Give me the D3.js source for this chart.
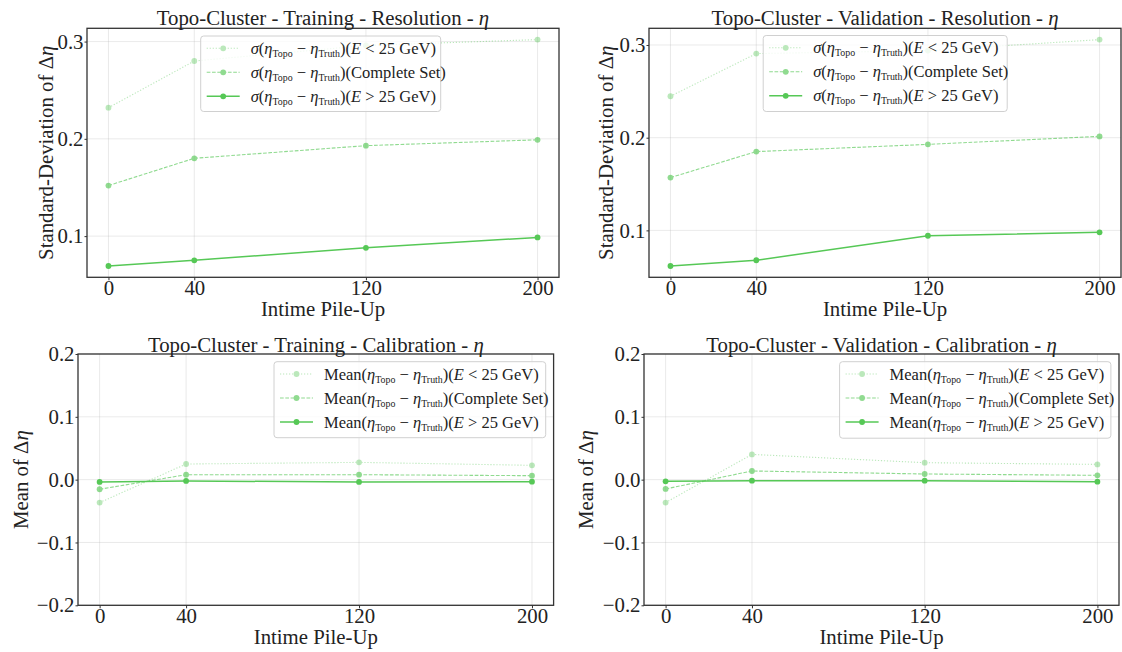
<!DOCTYPE html>
<html><head><meta charset="utf-8">
<script src="https://cdn.jsdelivr.net/npm/d3@7"></script>
<style>
html,body{margin:0;padding:0;background:#fff;}
svg{display:block;font-family:"Liberation Serif","Times New Roman",serif;}
svg text{font-family:"Liberation Serif","Times New Roman",serif !important;}
</style></head>
<body>
<svg id="chart" width="1122" height="652"></svg>
<script>
// ---------- data ----------
const pileUp = [0, 40, 120, 200];
const xTicks = [0, 40, 120, 200];

// Resolution (std-dev of Δη)
const trainResLow      = [0.232, 0.280, 0.296, 0.302];
const trainResComplete = [0.152, 0.180, 0.193, 0.199];
const trainResHigh     = [0.0693, 0.0751, 0.088, 0.0987];

const validResLow      = [0.2447, 0.2907, 0.294, 0.3058];
const validResComplete = [0.157, 0.185, 0.1928, 0.2014];
const validResHigh     = [0.0616, 0.0678, 0.0942, 0.0979];

// Calibration (mean of Δη)
const trainCalLow      = [-0.0365, 0.0249, 0.0275, 0.0228];
const trainCalComplete = [-0.0153, 0.0079, 0.0079, 0.0063];
const trainCalHigh     = [-0.0037, -0.0021, -0.0037, -0.0032];

const validCalLow      = [-0.0365, 0.0402, 0.0270, 0.0243];
const validCalComplete = [-0.0148, 0.0138, 0.0090, 0.0069];
const validCalHigh     = [-0.0026, -0.0016, -0.0016, -0.0032];

const resTicks = [0.1, 0.2, 0.3];
const calTicks = [-0.2, -0.1, 0.0, 0.1, 0.2];

const seriesNames = ["low", "complete", "high"];
const legendSuffix = ["(E < 25 GeV)", "(Complete Set)", "(E > 25 GeV)"];

// ---------- styles / layout ----------
const green = "rgb(86,200,86)";
const styles = {
  low:      {op: 0.4, dash: "1.2,1.8", w: 1.1},
  complete: {op: 0.65, dash: "3.7,1.6", w: 1.1},
  high:     {op: 1.0, dash: null, w: 1.5}
};
const FS = 20.8, LFS = 16.5;

const panels = [
  {title: "Topo-Cluster - Training - Resolution - ", ylab: "Standard-Deviation of ", kind: "res",
   box: {l: 87, r: 559, t: 28.3, b: 277.3}, series: [trainResLow, trainResComplete, trainResHigh],
   yTicks: resTicks, ylabX: 46.5, titleY: 25,
   leg: {x: 200.7, y: 36, w: 240, h: 75.5}},
  {title: "Topo-Cluster - Validation - Resolution - ", ylab: "Standard-Deviation of ", kind: "res",
   box: {l: 649, r: 1121, t: 28.3, b: 277.3}, series: [validResLow, validResComplete, validResHigh],
   yTicks: resTicks, ylabX: 607, titleY: 25,
   leg: {x: 763.2, y: 35.5, w: 244, h: 76}},
  {title: "Topo-Cluster - Training - Calibration - ", ylab: "Mean of ", kind: "cal",
   box: {l: 78, r: 553.6, t: 354, b: 605.3}, series: [trainCalLow, trainCalComplete, trainCalHigh],
   yTicks: calTicks, ylabX: 22, titleY: 351.5, fixed: [-0.2, 0.2],
   leg: {x: 274, y: 361.7, w: 271.7, h: 76}},
  {title: "Topo-Cluster - Validation - Calibration - ", ylab: "Mean of ", kind: "cal",
   box: {l: 644, r: 1119, t: 354, b: 605.3}, series: [validCalLow, validCalComplete, validCalHigh],
   yTicks: calTicks, ylabX: 587, titleY: 351.5, fixed: [-0.2, 0.2],
   leg: {x: 839.6, y: 361.7, w: 271.3, h: 76.5}}
];

const svg = d3.select("#chart");
const fmt1 = d3.format(".1f");
const tickFmt = v => fmt1(v).replace("-", "\u2212");

// Build math-ish legend label with tspans
function legendLabel(t, kind, suffix) {
  if (kind === "res") {
    t.append("tspan").attr("font-style", "italic").text("σ");
    t.append("tspan").text("(");
  } else {
    t.append("tspan").text("Mean(");
  }
  t.append("tspan").attr("font-style", "italic").text("η");
  t.append("tspan").attr("font-size", LFS * 0.6).attr("dy", 3).text("Topo");
  t.append("tspan").attr("dy", -3).text(" \u2212 ");
  t.append("tspan").attr("font-style", "italic").text("η");
  t.append("tspan").attr("font-size", LFS * 0.6).attr("dy", 3).text("Truth");
  t.append("tspan").attr("dy", -3).text(")");
  if (suffix.startsWith("(E")) {
    t.append("tspan").text("(");
    t.append("tspan").attr("font-style", "italic").text("E");
    t.append("tspan").text(suffix.slice(2));
  } else {
    t.append("tspan").text(suffix);
  }
}

panels.forEach(p => {
  const g = svg.append("g");
  const B = p.box;
  const x = d3.scaleLinear().domain([-10, 210]).range([B.l, B.r]);
  let yd;
  if (p.fixed) yd = p.fixed;
  else {
    const all = p.series.flat();
    const [mn, mx] = d3.extent(all);
    const m = (mx - mn) * 0.05;
    yd = [mn - m, mx + m];
  }
  const y = d3.scaleLinear().domain(yd).range([B.b, B.t]);

  // grid
  g.append("g").selectAll("line").data(xTicks).join("line")
    .attr("x1", d => x(d)).attr("x2", d => x(d)).attr("y1", B.t).attr("y2", B.b)
    .attr("stroke", "#b0b0b0").attr("stroke-opacity", 0.3).attr("stroke-width", 0.9);
  g.append("g").selectAll("line").data(p.yTicks).join("line")
    .attr("x1", B.l).attr("x2", B.r).attr("y1", d => y(d)).attr("y2", d => y(d))
    .attr("stroke", "#b0b0b0").attr("stroke-opacity", 0.3).attr("stroke-width", 0.9);

  // lines
  const line = d3.line().x((d, i) => x(pileUp[i])).y(d => y(d));
  p.series.forEach((s, k) => {
    const st = styles[seriesNames[k]];
    const sg = g.append("g").attr("opacity", st.op);
    sg.append("path").datum(s).attr("d", line).attr("fill", "none")
      .attr("stroke", green).attr("stroke-width", st.w)
      .attr("stroke-dasharray", st.dash);
    sg.selectAll("circle").data(s).join("circle")
      .attr("cx", (d, i) => x(pileUp[i])).attr("cy", d => y(d)).attr("r", 2.9)
      .attr("fill", green);
  });

  // axes
  const ax = d3.axisBottom(x).tickValues(xTicks).tickSize(3).tickPadding(4);
  const xg = g.append("g").attr("transform", `translate(0,${B.b})`).call(ax);
  const ay = d3.axisLeft(y).tickValues(p.yTicks).tickSize(2.5).tickPadding(1).tickFormat(tickFmt);
  const yg = g.append("g").attr("transform", `translate(${B.l},0)`).call(ay);
  [xg, yg].forEach(a => {
    a.attr("font-family", null).attr("font-size", null);
    a.select(".domain").remove();
    a.selectAll(".tick line").attr("stroke", "#333").attr("stroke-width", 1);
    a.selectAll("text").attr("font-size", FS).attr("fill", "#222");
  });
  xg.selectAll("text").attr("dy", "0.53em");

  // legend
  const L = p.leg;
  const lg = g.append("g");
  lg.append("rect").attr("x", L.x).attr("y", L.y).attr("width", L.w).attr("height", L.h)
    .attr("rx", 3).attr("fill", "#fff").attr("fill-opacity", 0.8)
    .attr("stroke", "#d0d0d0").attr("stroke-width", 1);
  seriesNames.forEach((nm, k) => {
    const st = styles[nm];
    const ry = L.y + 12.3 + k * 24;
    const hg = lg.append("g").attr("opacity", st.op);
    hg.append("line").attr("x1", L.x + 6).attr("x2", L.x + 39).attr("y1", ry).attr("y2", ry)
      .attr("stroke", green).attr("stroke-width", st.w).attr("stroke-dasharray", st.dash);
    hg.append("circle").attr("cx", L.x + 22.5).attr("cy", ry).attr("r", 2.9).attr("fill", green);
    const t = lg.append("text").attr("x", L.x + 50).attr("y", ry + 5.5)
      .attr("font-size", LFS).attr("fill", "#222");
    legendLabel(t, p.kind, legendSuffix[k]);
  });

  // frame
  g.append("rect").attr("x", B.l).attr("y", B.t).attr("width", B.r - B.l).attr("height", B.b - B.t)
    .attr("fill", "none").attr("stroke", "#333").attr("stroke-width", 1.3);

  // title
  const tt = g.append("text").attr("x", (B.l + B.r) / 2).attr("y", p.titleY)
    .attr("text-anchor", "middle").attr("font-size", FS).attr("fill", "#222").text(p.title);
  tt.append("tspan").attr("font-style", "italic").text("η");

  // x label
  g.append("text").attr("x", (B.l + B.r) / 2).attr("y", B.b + 39)
    .attr("text-anchor", "middle").attr("font-size", FS).attr("fill", "#222").text("Intime Pile-Up");

  // y label
  const yl = g.append("text")
    .attr("transform", `translate(${p.ylabX + 6},${(B.t + B.b) / 2}) rotate(-90)`)
    .attr("text-anchor", "middle").attr("font-size", FS).attr("fill", "#222").text(p.ylab + "Δ");
  yl.append("tspan").attr("font-style", "italic").text("η");
});
</script>
</body></html>
